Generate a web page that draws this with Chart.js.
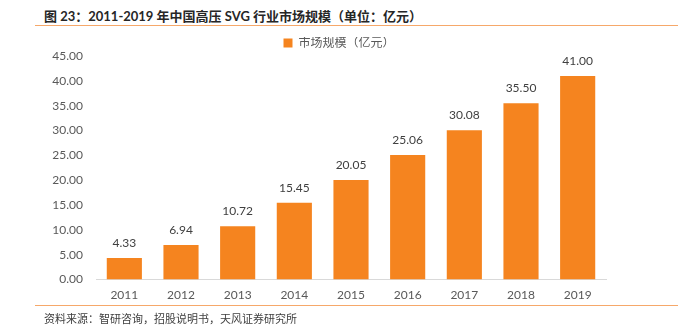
<!DOCTYPE html>
<html>
<head>
<meta charset="utf-8">
<script src="https://cdn.jsdelivr.net/npm/chart.js@4"></script>
<style>
  html,body{margin:0;padding:0;background:#fff;}
  #wrap{position:relative;width:678px;height:329px;overflow:hidden;font-family:Lato,"Noto Sans CJK SC",sans-serif;}
  #title{position:absolute;left:44px;top:6px;font-size:13px;font-weight:bold;color:#262626;white-space:nowrap;}
  #line1{position:absolute;left:35px;right:0;top:25px;height:1px;background:#F6A86A;}
  #line2{position:absolute;left:35px;right:0;top:305px;height:1px;background:#F6A86A;}
  #foot{position:absolute;left:44px;top:310px;font-size:11px;color:#404040;white-space:nowrap;}
  canvas{position:absolute;left:0;top:0;}
</style>
</head>
<body>
<div id="wrap">
  <div id="title">图 23：2011-2019 年中国高压 SVG 行业市场规模（单位：亿元）</div>
  <div id="line1"></div>
  <canvas id="c" width="678" height="329"></canvas>
  <div id="line2"></div>
  <div id="foot">资料来源：智研咨询，招股说明书，天风证券研究所</div>
</div>
<script>
const categories = ["2011","2012","2013","2014","2015","2016","2017","2018","2019"];
const seriesName = "市场规模（亿元）";
const marketSize = [4.33, 6.94, 10.72, 15.45, 20.05, 25.06, 30.08, 35.50, 41.00];
const yTicks = [0,5,10,15,20,25,30,35,40,45];

const FONT = 'Lato, "Noto Sans CJK SC", sans-serif';

const labelPlugin = {
  id: 'barLabels',
  afterDatasetsDraw(chart) {
    const ctx = chart.ctx;
    const meta = chart.getDatasetMeta(0);
    ctx.save();
    ctx.font = '12px ' + FONT;
    ctx.fillStyle = '#404040';
    ctx.textAlign = 'center';
    ctx.textBaseline = 'bottom';
    meta.data.forEach((el, i) => {
      ctx.fillText(marketSize[i].toFixed(2), el.x, el.y - 9);
    });
    ctx.restore();
  }
};

const legendShift = {
  id: 'legendShift',
  afterLayout(chart) {
    const lg = chart.legend;
    if (!lg) return;
    const d = 3;
    lg.top += d; lg.bottom += d;
    if (lg.legendHitBoxes) lg.legendHitBoxes.forEach(h => { h.top += d; });
  }
};

new Chart(document.getElementById('c'), {
  type: 'bar',
  data: {
    labels: categories,
    datasets: [{
      label: seriesName,
      data: marketSize,
      backgroundColor: '#F5841F',
      borderWidth: 0,
      categoryPercentage: 0.62,
      barPercentage: 1.0
    }]
  },
  options: {
    responsive: false,
    animation: false,
    layout: { padding: { top: 34, right: 0, bottom: 19, left: 0 } },
    plugins: {
      legend: {
        display: true,
        position: 'top',
        labels: {
          boxWidth: 9, boxHeight: 9, padding: 0,
          color: '#595959',
          font: { size: 12, family: FONT }
        }
      },
      tooltip: { enabled: false }
    },
    scales: {
      x: {
        grid: { display: false, drawTicks: false },
        border: { display: true, color: '#D9D9D9', width: 1 },
        ticks: { color: '#595959', font: { size: 12, family: FONT }, padding: 8 }
      },
      y: {
        min: 0, max: 45,
        afterFit(scale) { scale.width = 96; },
        afterBuildTicks(scale) { scale.ticks = yTicks.map(v => ({ value: v })); },
        grid: { display: false, drawTicks: false },
        border: { display: false },
        ticks: {
          color: '#595959', font: { size: 12, family: FONT }, padding: 13,
          callback: v => Number(v).toFixed(2)
        }
      },
      yRight: {
        position: 'right',
        min: 0, max: 45,
        afterFit(scale) { scale.width = 72; },
        grid: { display: false, drawTicks: false },
        border: { display: false },
        ticks: { display: false }
      }
    }
  },
  plugins: [labelPlugin, legendShift]
});
</script>
</body>
</html>
